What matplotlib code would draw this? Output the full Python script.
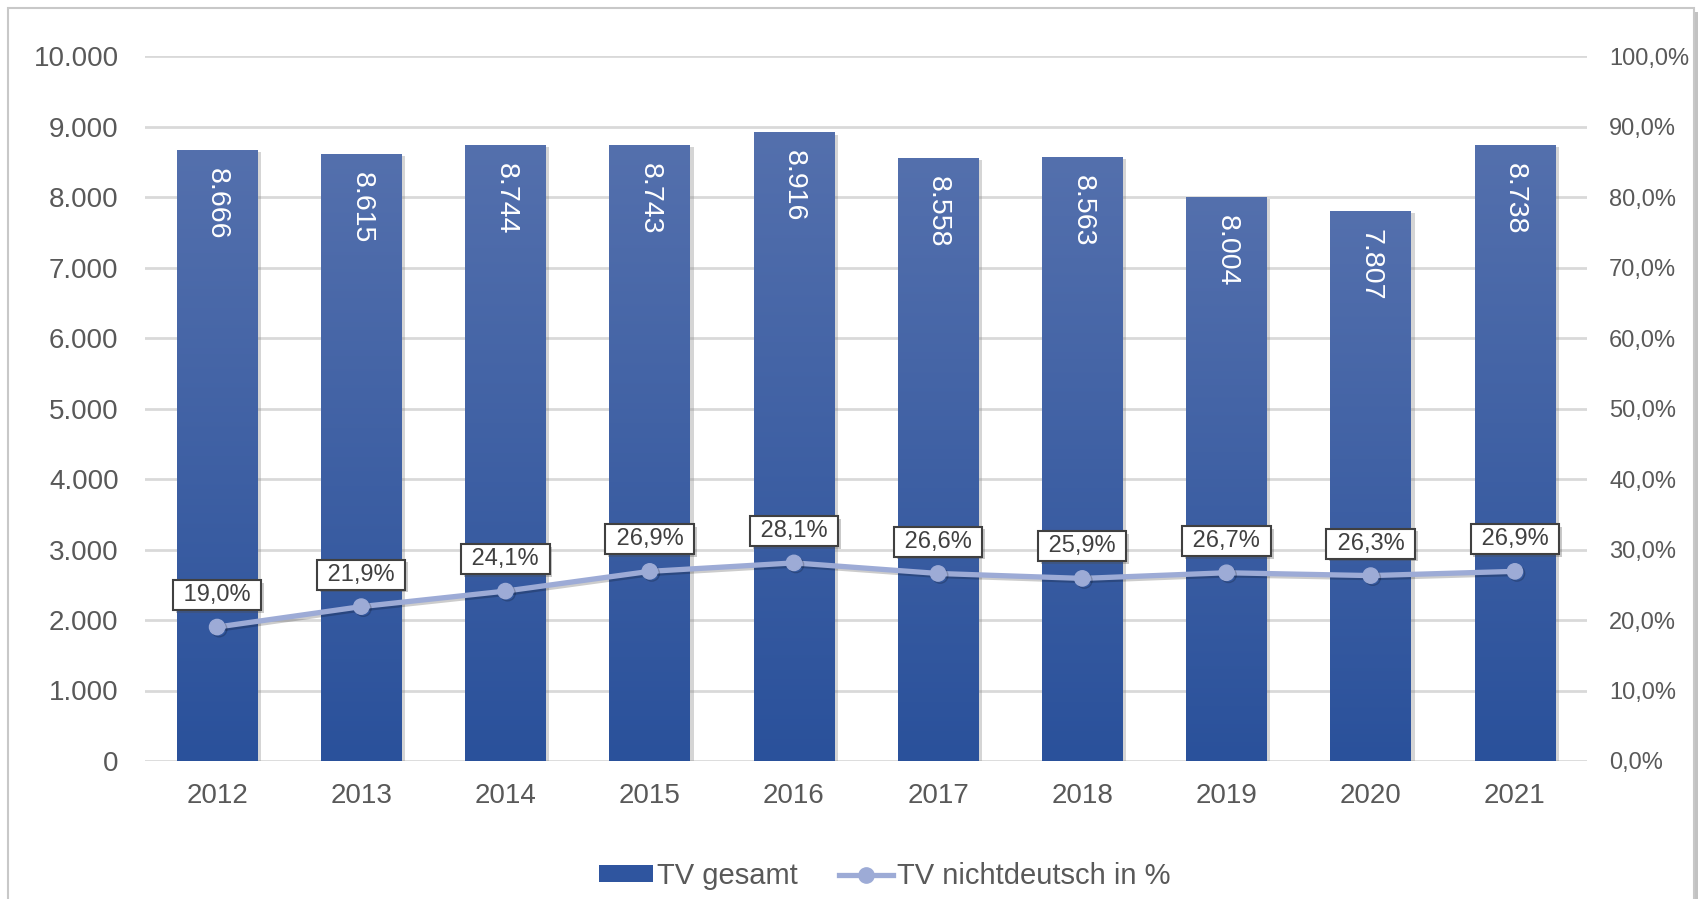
import numpy as np
import matplotlib.pyplot as plt
from matplotlib.patches import Rectangle
from matplotlib.lines import Line2D
from matplotlib.colors import LinearSegmentedColormap
import matplotlib.patheffects as pe

plt.rcParams['font.family'] = ['Liberation Sans', 'DejaVu Sans']

# Data
years = ['2012', '2013', '2014', '2015', '2016', '2017', '2018', '2019', '2020', '2021']
tv_total = [8666, 8615, 8744, 8743, 8916, 8558, 8563, 8004, 7807, 8738]
tv_foreign_pct = [19.0, 21.9, 24.1, 26.9, 28.1, 26.6, 25.9, 26.7, 26.3, 26.9]

grey = '#595959'
line_col = '#9dabd6'
grad = LinearSegmentedColormap.from_list('bar', ['#2a519b', '#5470ad'])

fig = plt.figure(figsize=(17.03, 8.99), dpi=100)

# outer frame with shadow
fig.patches.append(Rectangle((1694 / 1703, 0), 4 / 1703, 1 - 12 / 899, transform=fig.transFigure,
                             facecolor='#9a9a9a', edgecolor='none', alpha=0.6, zorder=-2))
fig.patches.append(Rectangle((8 / 1703, -0.01), 1686 / 1703, 1 - 8 / 899 + 0.01, transform=fig.transFigure,
                             facecolor='white', edgecolor='#c8c8c8', linewidth=1.5, zorder=-1))

pos = [145 / 1703, 1 - 761 / 899, 1442 / 1703, 705 / 899]

# gridlines on a background axes
axg = fig.add_axes(pos, zorder=0)
axg.set_ylim(0, 10000)
axg.set_xlim(0, 1)
for t in np.arange(0, 10001, 1000):
    axg.axhline(t, color='#d9d9d9', linewidth=2)
axg.axis('off')

ax1 = fig.add_axes(pos, zorder=1)
ax1.patch.set_visible(False)

x = np.arange(len(years))
bars = ax1.bar(x, tv_total, width=0.56, color='#3a5ea6', zorder=2,
               path_effects=[pe.SimplePatchShadow(offset=(2.5, -1.5), shadow_rgbFace='#888888', alpha=0.35),
                             pe.Normal()])
gradient = np.linspace(0, 1, 256).reshape(-1, 1)
for b in bars:
    bx, by, bw, bh = b.get_x(), b.get_y(), b.get_width(), b.get_height()
    im = ax1.imshow(gradient, cmap=grad, aspect='auto', origin='lower',
                    extent=(bx, bx + bw, by, by + bh), zorder=3)
    im.set_clip_path(b)

for xi, v in zip(x, tv_total):
    ax1.annotate(f'{v:,}'.replace(',', '.'), (xi, v), xytext=(0, -13), textcoords='offset points',
                 rotation=270, ha='center', va='top', color='white', fontsize=20.5, zorder=4)

ax1.set_xlim(-0.5, len(years) - 0.5)
ax1.set_ylim(0, 10000)
ax1.set_yticks(np.arange(0, 10001, 1000))
ax1.set_yticklabels([f'{int(t):,}'.replace(',', '.') for t in np.arange(0, 10001, 1000)])
ax1.set_xticks(x)
ax1.set_xticklabels(years)
ax1.tick_params(axis='both', length=0, labelsize=20, colors=grey)
ax1.tick_params(axis='y', pad=19)
ax1.tick_params(axis='x', pad=16)
for s in ax1.spines.values():
    s.set_visible(False)

ax2 = ax1.twinx()
ax2.set_zorder(2)
ax2.patch.set_visible(False)
ax2.plot(x, tv_foreign_pct, color=line_col, linewidth=3.8, marker='o', markersize=11,
         solid_capstyle='round', zorder=5,
         path_effects=[pe.SimpleLineShadow(offset=(1.5, -1.5), alpha=0.2), pe.Normal()])
ax2.set_ylim(0, 100)
ax2.set_yticks(np.arange(0, 101, 10))
ax2.set_yticklabels([f'{t:.1f}%'.replace('.', ',') for t in np.arange(0, 101, 10)])
ax2.tick_params(axis='y', length=0, labelsize=17, colors=grey, pad=16)
for s in ax2.spines.values():
    s.set_visible(False)

for xi, v in zip(x, tv_foreign_pct):
    ax2.annotate(' ' + f'{v:.1f}%'.replace('.', ',') + ' ', (xi, v), xytext=(0, 23), textcoords='offset points',
                 ha='center', va='center', fontsize=17, color='#404040', zorder=6,
                 bbox=dict(boxstyle='square,pad=0.17', facecolor='white', edgecolor='#404040', linewidth=1.5,
                           path_effects=[pe.SimplePatchShadow(offset=(2, -2), alpha=0.3), pe.Normal()]))

handles = [Rectangle((0, 0), 1, 1, facecolor='#2f559f'),
           Line2D([0], [0], color=line_col, linewidth=3.8, marker='o', markersize=11)]
fig.legend(handles, ['TV gesamt', 'TV nichtdeutsch in %'], loc='center',
           bbox_to_anchor=(885 / 1703, 1 - 876 / 899), ncol=2, frameon=False, fontsize=21,
           labelcolor=grey, handlelength=1.85, handleheight=0.5, handletextpad=0.14, columnspacing=1.4,
           borderpad=0, borderaxespad=0)

fig.savefig('out.png', dpi=100)
